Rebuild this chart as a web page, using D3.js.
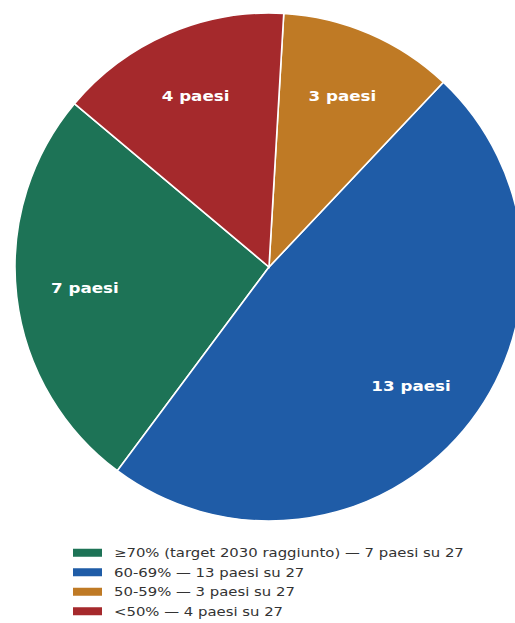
<!DOCTYPE html>
<html>
<head>
<meta charset="utf-8">
<script src="https://cdn.jsdelivr.net/npm/d3@7"></script>
<style>
  html, body { margin: 0; padding: 0; background: #fff; }
  svg { display: block; }
</style>
</head>
<body>
<svg id="chart" width="515" height="623"></svg>
<script>
// Data
const categories = ['≥70% (target 2030 raggiunto)', '60-69%', '50-59%', '<50%'];
const counts = [7, 13, 3, 4];
const sliceLabels = ['7 paesi', '13 paesi', '3 paesi', '4 paesi'];
const legendLabels = [
  '≥70% (target 2030 raggiunto) — 7 paesi su 27',
  '60-69% — 13 paesi su 27',
  '50-59% — 3 paesi su 27',
  '<50% — 4 paesi su 27'
];
const colors = ['#1d7356', '#1f5ca7', '#bf7a25', '#a5292c'];

const width = 515, height = 623;
const cx = 269, cy = 267, radius = 254;
const textStretch = 1.24; // glyphs in the reference are wider than DejaVu
const svg = d3.select('#chart');

const data = counts.map((v, i) => ({ cat: categories[i], value: v, label: sliceLabels[i], color: colors[i] }));

// counterclockwise from math angle 140 deg (matplotlib style)
const start = (90 - 140) * Math.PI / 180;
const pie = d3.pie().sort(null).value(d => d.value)
  .startAngle(start).endAngle(start - 2 * Math.PI);
const arcs = pie(data);

const arc = d3.arc().innerRadius(0).outerRadius(radius);
const labelArc = d3.arc().innerRadius(radius * 0.73).outerRadius(radius * 0.73);

const g = svg.append('g').attr('transform', `translate(${cx},${cy})`);
g.selectAll('path.slice').data(arcs).enter().append('path')
  .attr('class', 'slice')
  .attr('d', arc)
  .attr('fill', d => d.data.color)
  .attr('stroke', '#ffffff')
  .attr('stroke-width', 1.6);

g.selectAll('text.lbl').data(arcs).enter().append('text')
  .attr('class', 'lbl')
  .attr('transform', d => `translate(${labelArc.centroid(d)}) scale(${textStretch},1)`)
  .attr('text-anchor', 'middle')
  .attr('dominant-baseline', 'central')
  .attr('font-family', 'DejaVu Sans, sans-serif')
  .attr('font-weight', 'bold')
  .attr('font-size', 13.5)
  .attr('fill', '#ffffff')
  .text(d => d.data.label);

// Legend
const legY = d3.scaleBand().domain(d3.range(legendLabels.length)).range([543, 621]);
const leg = svg.append('g');
const rows = leg.selectAll('g').data(legendLabels).enter().append('g')
  .attr('transform', (d, i) => `translate(0,${legY(i) + legY.bandwidth() / 2})`);
rows.append('rect')
  .attr('x', 73).attr('y', -4).attr('width', 29).attr('height', 8)
  .attr('fill', (d, i) => colors[i]);
rows.append('text')
  .attr('transform', `translate(114,0) scale(${textStretch},1)`)
  .attr('dominant-baseline', 'central')
  .attr('font-family', 'DejaVu Sans, sans-serif')
  .attr('font-size', 12)
  .attr('fill', '#333333')
  .text(d => d);
</script>
</body>
</html>
